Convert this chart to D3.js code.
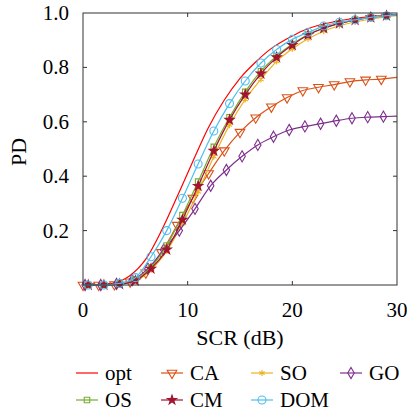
<!DOCTYPE html>
<html>
<head>
<meta charset="utf-8">
<script src="https://cdn.jsdelivr.net/npm/d3@7"></script>
<style>
  body { margin: 0; background: #fff; }
</style>
</head>
<body>
<svg id="chart" width="407" height="416"></svg>
<script>
const scrA = [0, 1.5, 3, 4.5, 6, 7.5, 9, 10.5, 12, 13.5, 15, 16.5, 18, 19.5, 21, 22.5, 24, 25.5, 27, 28.5, 30];
const scrB = [0, 0.5, 2, 3.5, 5, 6.5, 8, 9.5, 11, 12.5, 14, 15.5, 17, 18.5, 20, 21.5, 23, 24.5, 26, 27.5, 29, 30];
const scrG = [0, 0.2, 1.7, 3.2, 4.7, 6.2, 7.7, 9.2, 10.7, 12.2, 13.7, 15.2, 16.7, 18.2, 19.7, 21.2, 22.7, 24.2, 25.7, 27.2, 28.7, 30];

// PD values
const pdOpt = [0, 0.001, 0.008, 0.035, 0.095, 0.2, 0.325, 0.455, 0.58, 0.68, 0.76, 0.82, 0.87, 0.905, 0.935, 0.955, 0.968, 0.978, 0.985, 0.99, 0.994];
const pdCA  = [0, 0, 0.002, 0.012, 0.045, 0.12, 0.22, 0.32, 0.41, 0.494, 0.562, 0.615, 0.655, 0.689, 0.715, 0.727, 0.737, 0.748, 0.754, 0.757, 0.763];
const pdSO  = [0, 0, 0, 0.003, 0.015, 0.055, 0.125, 0.225, 0.343, 0.472, 0.588, 0.682, 0.756, 0.822, 0.868, 0.905, 0.933, 0.953, 0.967, 0.978, 0.986, 0.99];
const pdGO  = [0, 0, 0, 0.004, 0.018, 0.06, 0.13, 0.2, 0.28, 0.365, 0.423, 0.473, 0.515, 0.545, 0.57, 0.583, 0.593, 0.604, 0.613, 0.617, 0.619, 0.621];
const pdOS  = [0, 0, 0, 0.004, 0.02, 0.065, 0.145, 0.257, 0.38, 0.508, 0.617, 0.71, 0.786, 0.842, 0.886, 0.921, 0.945, 0.962, 0.975, 0.984, 0.99, 0.993];
const pdCM  = [0, 0, 0, 0.003, 0.016, 0.06, 0.13, 0.24, 0.364, 0.493, 0.607, 0.7, 0.777, 0.837, 0.882, 0.919, 0.944, 0.962, 0.974, 0.984, 0.99, 0.993];
const pdDOM = [0, 0, 0, 0.006, 0.027, 0.104, 0.2, 0.319, 0.445, 0.566, 0.667, 0.75, 0.816, 0.866, 0.903, 0.929, 0.952, 0.966, 0.975, 0.984, 0.99, 0.993];

const xTicks = [0, 10, 20, 30];
const yTicks = [0.2, 0.4, 0.6, 0.8, 1.0];

// plot order = legend order
const series = [
  { name: "opt", xs: scrA, ys: pdOpt, color: "#ff0000", mark: null },
  { name: "CA",  xs: scrA, ys: pdCA,  color: "#D95319", mark: "tri",  markStart: true },
  { name: "SO",  xs: scrB, ys: pdSO,  color: "#EDB120", mark: "ast" },
  { name: "GO",  xs: scrG, ys: pdGO,  color: "#7E2F8E", mark: "dia" },
  { name: "OS",  xs: scrB, ys: pdOS,  color: "#77AC30", mark: "sq" },
  { name: "CM",  xs: scrB, ys: pdCM,  color: "#A2142F", mark: "star" },
  { name: "DOM", xs: scrB, ys: pdDOM, color: "#4DBEEE", mark: "circ" }
];

const fontFam = "Liberation Serif, DejaVu Serif";
const svg = d3.select("#chart");
const margin = { left: 83, top: 13, right: 10, bottom: 131 };
const width = 407 - margin.left - margin.right;
const height = 416 - margin.top - margin.bottom;

const xScale = d3.scaleLinear().domain([0, 30]).range([0, width]);
const yScale = d3.scaleLinear().domain([0, 1]).range([height, 0]);

const g = svg.append("g").attr("transform", `translate(${margin.left}, ${margin.top})`);

// symbols
function markPath(type) {
  switch (type) {
    case "tri":  return d3.symbol(d3.symbolTriangle, 40)();
    case "ast":  return d3.symbol(d3.symbolAsterisk, 26)();
    case "dia":  return d3.symbol(d3.symbolDiamond, 36)();
    case "sq":   return d3.symbol(d3.symbolSquare, 30)();
    case "star": return d3.symbol(d3.symbolStar, 26)();
    case "circ": return d3.symbol(d3.symbolCircle, 50)();
  }
}
function styleMark(sel, s) {
  sel.attr("d", markPath(s.mark))
     .attr("stroke", s.color)
     .attr("stroke-width", 1.1)
     .attr("fill", s.mark === "star" ? s.color : "none")
     .attr("transform", d => `translate(${d[0]},${d[1]})` + (s.mark === "tri" ? " rotate(180)" : ""));
}

const line = d3.line()
  .x(d => xScale(d.x))
  .y(d => yScale(d.y))
  .curve(d3.curveMonotoneX);

series.forEach(s => {
  const pts = s.xs.map((x, i) => ({ x: x, y: s.ys[i] }));
  g.append("path")
   .datum(pts)
   .attr("fill", "none")
   .attr("stroke", s.color)
   .attr("stroke-width", 1.2)
   .attr("d", line);
  if (s.mark) {
    const mpts = pts.filter(d => d.x < 30 && (d.x > 0 || s.markStart))
                    .map(d => [xScale(d.x), yScale(d.y)]);
    g.append("g").selectAll("path")
     .data(mpts)
     .enter()
     .append("path")
     .call(styleMark, s);
  }
});

// frame and ticks
const axisColor = "#333";
g.append("rect")
 .attr("width", width).attr("height", height)
 .attr("fill", "none").attr("stroke", axisColor).attr("stroke-width", 1);

const tickLen = 4;
const xInner = [10, 20];
g.selectAll(".xtb").data(xInner).enter().append("line")
 .attr("x1", d => xScale(d)).attr("x2", d => xScale(d))
 .attr("y1", height).attr("y2", height - tickLen)
 .attr("stroke", axisColor);
g.selectAll(".xtt").data(xInner).enter().append("line")
 .attr("x1", d => xScale(d)).attr("x2", d => xScale(d))
 .attr("y1", 0).attr("y2", tickLen)
 .attr("stroke", axisColor);
const yInner = [0.2, 0.4, 0.6, 0.8];
g.selectAll(".ytl").data(yInner).enter().append("line")
 .attr("x1", 0).attr("x2", tickLen)
 .attr("y1", d => yScale(d)).attr("y2", d => yScale(d))
 .attr("stroke", axisColor);
g.selectAll(".ytr").data(yInner).enter().append("line")
 .attr("x1", width).attr("x2", width - tickLen)
 .attr("y1", d => yScale(d)).attr("y2", d => yScale(d))
 .attr("stroke", axisColor);

// tick labels
g.selectAll(".xl").data(xTicks).enter().append("text")
 .attr("x", d => xScale(d))
 .attr("y", height + 32)
 .attr("text-anchor", "middle")
 .attr("font-family", fontFam)
 .attr("font-size", 21)
 .text(d => d);
g.selectAll(".yl").data(yTicks).enter().append("text")
 .attr("x", -14)
 .attr("y", d => yScale(d) + 7)
 .attr("text-anchor", "end")
 .attr("font-family", fontFam)
 .attr("font-size", 21)
 .text(d => d.toFixed(1));

// axis titles
g.append("text")
 .attr("x", width / 2)
 .attr("y", height + 60)
 .attr("text-anchor", "middle")
 .attr("font-family", fontFam)
 .attr("font-size", 22)
 .text("SCR (dB)");
g.append("text")
 .attr("transform", `translate(${26 - margin.left}, ${height / 2 + 3}) rotate(-90)`)
 .attr("text-anchor", "middle")
 .attr("font-family", fontFam)
 .attr("font-size", 22)
 .text("PD");

// legend, 4 columns
const legX = [76, 161, 251, 340];
const legY = [373, 400];
const leg = svg.append("g");
series.forEach((s, i) => {
  const cx = legX[i % 4], cy = legY[Math.floor(i / 4)];
  const item = leg.append("g");
  item.append("line")
      .attr("x1", cx).attr("x2", cx + 22)
      .attr("y1", cy).attr("y2", cy)
      .attr("stroke", s.color).attr("stroke-width", 1.2);
  if (s.mark) {
    item.append("path").datum([cx + 11, cy]).call(styleMark, s);
  }
  item.append("text")
      .attr("x", cx + 29)
      .attr("y", cy + 7)
      .attr("font-family", fontFam)
      .attr("font-size", 21)
      .text(s.name);
});
</script>
</body>
</html>
